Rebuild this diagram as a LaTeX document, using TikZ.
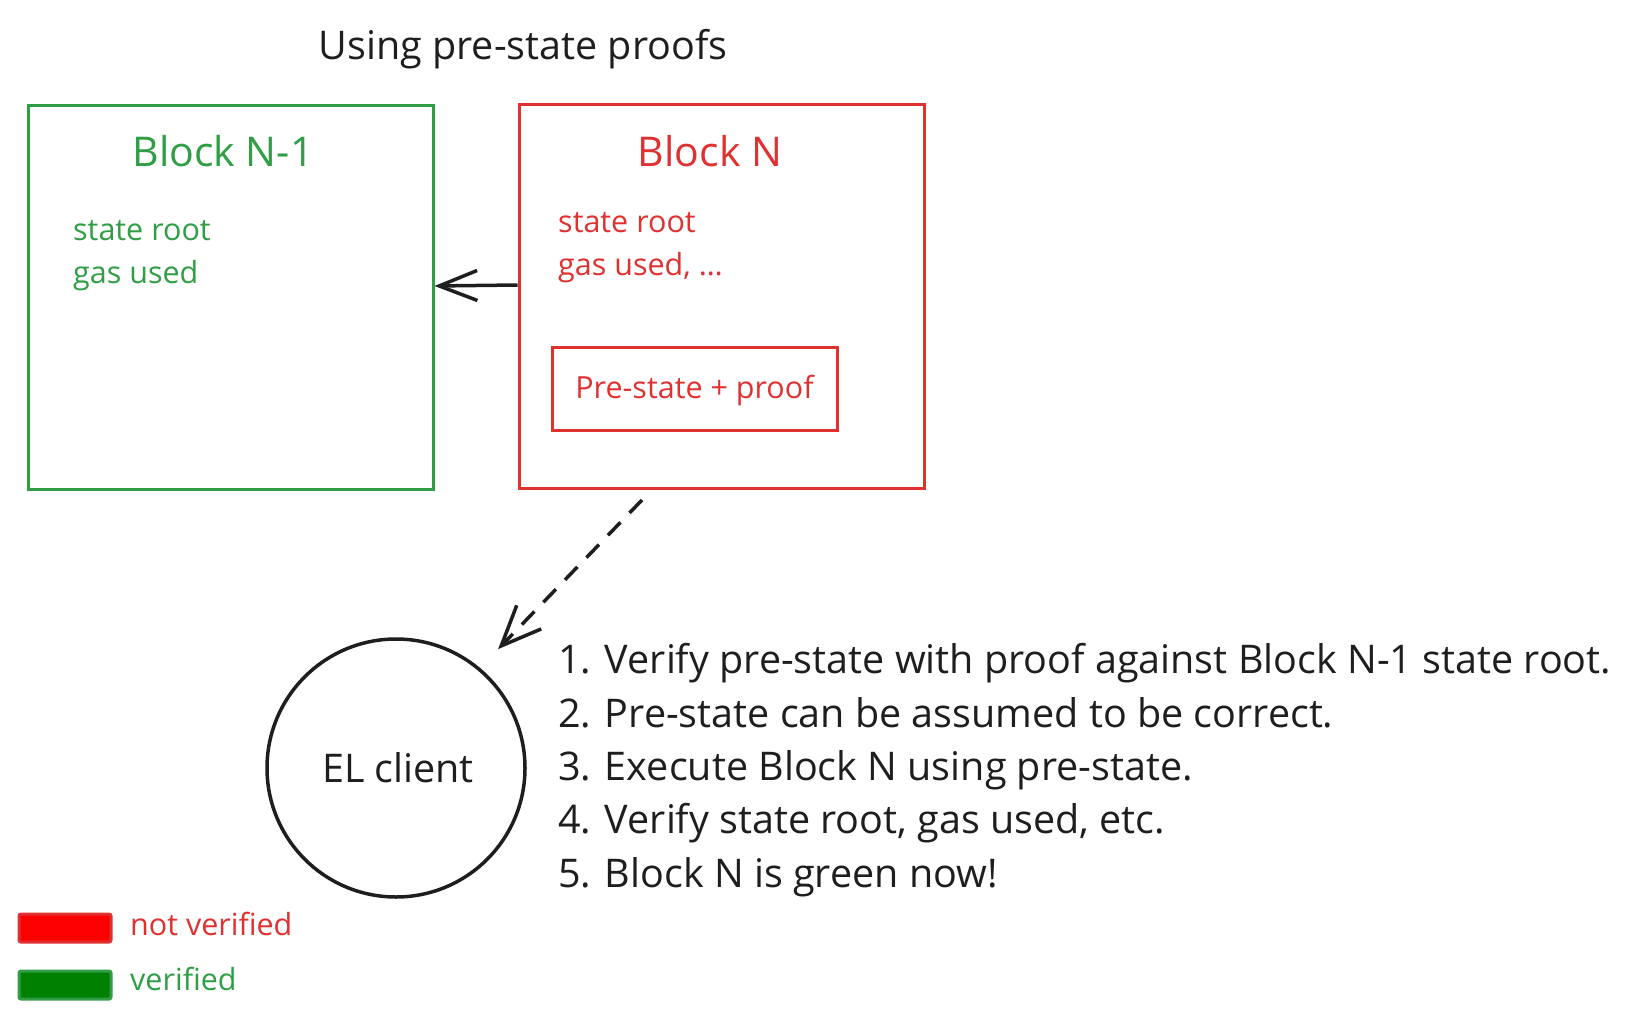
\documentclass[tikz,border=0pt]{standalone}
\usepackage{fontspec}
\setmainfont{Open Sans}
\usepackage{xcolor}
\usepackage{tikz}
\usetikzlibrary{calc,arrows.meta,positioning}
\definecolor{inkblack}{HTML}{1E1E1E}
\definecolor{inkred}{HTML}{E03131}
\definecolor{inkgreen}{HTML}{2F9E44}
\definecolor{fillred}{HTML}{FF0000}
\definecolor{fillgreen}{HTML}{008000}
\tikzset{
  blockbox/.style   = {draw, line width=3pt, minimum width=405pt, minimum height=383pt, inner sep=0pt},
  innerbox/.style   = {draw=inkred, line width=3pt, minimum width=285pt, minimum height=83pt, inner sep=0pt},
  bigtxt/.style     = {font=\fontsize{41}{44}\selectfont, inner sep=0pt},
  midtxt/.style     = {font=\fontsize{39.5}{40}\selectfont, inner sep=0pt, text=inkblack},
  smalltxt/.style   = {font=\fontsize{30.5}{32}\selectfont, inner sep=0pt},
  legendbox/.style  = {line width=3pt, rounded corners=2pt, minimum width=92pt, minimum height=28pt, inner sep=0pt},
  solidarr/.style   = {-{Straight Barb[length=38pt,width=30pt,line width=3.5pt]}, line width=3.5pt, inkblack},
  dasharr/.style    = {-{Straight Barb[length=40pt,width=34pt,line width=3.5pt]}, line width=3.5pt, inkblack,
                       dash pattern=on 18pt off 13pt},
}
\begin{document}
\begin{tikzpicture}[x=1pt,y=-1pt]
\useasboundingbox (0,0) rectangle (1641,1022);
\node[midtxt, anchor=base] (title) at (523,60) {Using pre-state proofs};
% the two blocks
\node[blockbox, draw=inkgreen] (blockold) at (230.5,297.5) {};
\node[blockbox, draw=inkred]   (blocknew) at (721.5,296.5) {};
\node[bigtxt, text=inkgreen, anchor=base] (oldname) at (223,167) {Block N-1};
\node[bigtxt, text=inkred, anchor=base]   (newname) at (710,167) {Block N};
\node[smalltxt, text=inkgreen, anchor=base west] (oldroot) at (73,240) {state root};
\node[smalltxt, text=inkgreen, anchor=base west] (oldgas)  at (73,283) {gas used};
\node[smalltxt, text=inkred, anchor=base west] (newroot) at (558,232) {state root};
\node[smalltxt, text=inkred, anchor=base west] (newgas)  at (558,275) {gas used, \dots};
\node[innerbox] (proofbox) at (694.5,388.5) {};
\node[smalltxt, text=inkred, anchor=base] (prooftxt) at (694.5,398) {Pre-state + proof};
\draw[solidarr] ([yshift=11.5pt]blocknew.west) -- ([yshift=11.5pt]blockold.east);
% client and steps
\node[circle, draw=inkblack, line width=3.5pt, minimum size=258pt, inner sep=0pt] (elclient) at (396,768) {};
\node[midtxt, anchor=base] (eltxt) at (398,782) {EL client};
\coordinate (dashfrom) at (642,500);
\draw[dasharr, shorten >=26pt] (dashfrom) -- (elclient.50);
\node[midtxt, anchor=base west] (step1) at (558,673) {1. Verify pre-state with proof against Block N-1 state root.};
\node[midtxt, anchor=base west] (step2) at (558,727) {2. Pre-state can be assumed to be correct.};
\node[midtxt, anchor=base west] (step3) at (558,780) {3. Execute Block N using pre-state.};
\node[midtxt, anchor=base west] (step4) at (558,833) {4. Verify state root, gas used, etc.};
\node[midtxt, anchor=base west] (step5) at (558,887) {5. Block N is green now!};
% legend
\node[legendbox, draw=inkred, fill=fillred]       (keyred)   at (65,928) {};
\node[legendbox, draw=inkgreen, fill=fillgreen]   (keygreen) at (65,985) {};
\node[smalltxt, text=inkred, anchor=base west]   (keyredtxt)   at (130,935) {not verified};
\node[smalltxt, text=inkgreen, anchor=base west] (keygreentxt) at (130,990) {verified};
\end{tikzpicture}
\end{document}
